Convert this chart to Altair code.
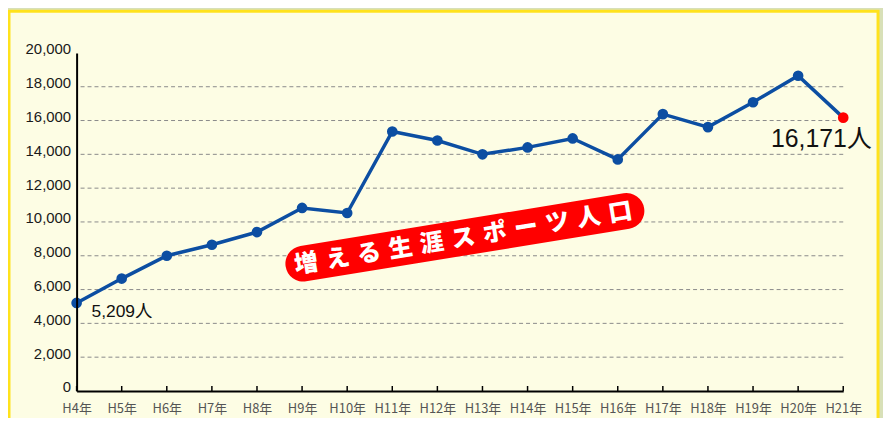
import altair as alt
import pandas as pd

years = ["H4年", "H5年", "H6年", "H7年", "H8年", "H9年", "H10年", "H11年", "H12年",
         "H13年", "H14年", "H15年", "H16年", "H17年", "H18年", "H19年", "H20年", "H21年"]
population = [5209, 6650, 8000, 8650, 9400, 10830, 10530, 15350, 14820,
              14000, 14410, 14940, 13700, 16380, 15610, 17080, 18650, 16171]
y_ticks = [0, 2000, 4000, 6000, 8000, 10000, 12000, 14000, 16000, 18000, 20000]
grid_values = [2000, 4000, 6000, 8000, 10000, 12000, 14000, 16000, 18000]
first_label = "5,209人"
last_label = "16,171人"
banner_chars = ["増", "え", "る", "生", "涯", "ス", "ポ", "ー", "ツ", "人", "口"]
banner_text = "\u2004".join(banner_chars)

W, H = 771, 340
df = pd.DataFrame({"year": years, "pop": population})
df["last"] = df["year"] == years[-1]
grid_df = pd.DataFrame({"v": grid_values})
one = pd.DataFrame({"a": [0]})

xs = alt.Scale(domain=years, type="point", padding=0)
ys = alt.Scale(domain=[0, 20000])

FONT_NUM = "Liberation Sans, Noto Sans CJK JP"
FONT_X = "Liberation Sans Narrow, Noto Sans CJK JP"

x_axis = alt.Axis(title=None, labelAngle=0, ticks=False, domainColor="#000000",
                  domainWidth=2, labelFont=FONT_X, labelFontSize=13,
                  labelColor="#555555", labelPadding=12, labelFlush=False, zindex=2)
y_axis = alt.Axis(title=None, values=y_ticks, format=",.0f", ticks=False, grid=False,
                  domainColor="#000000", domainWidth=2, labelFont=FONT_NUM,
                  labelFontSize=15, labelColor="#1a1a1a", labelPadding=6,
                  labelOffset=-4, zindex=2)

panel = alt.Chart(one).mark_rect(fill="#FDFDE4", stroke="#FFE21C", strokeWidth=3).encode(
    x=alt.value(-68), x2=alt.value(806), y=alt.value(-42), y2=alt.value(420)
)

grid = alt.Chart(grid_df).mark_rule(color="#8a8a8a", strokeWidth=1, strokeDash=[4, 3]).encode(
    y=alt.Y("v:Q", scale=ys, axis=y_axis),
    x=alt.value(4), x2=alt.value(W),
)

base = alt.Chart(df).encode(
    x=alt.X("year:N", scale=xs, sort=years, axis=x_axis),
    y=alt.Y("pop:Q", scale=ys, axis=y_axis),
)

xticks = alt.Chart(df).mark_rule(color="#000000", strokeWidth=1.5).encode(
    x=alt.X("year:N", scale=xs, sort=years, axis=x_axis),
    y=alt.value(H - 5), y2=alt.value(H),
)

line = base.mark_line(color="#0C4EA2", strokeWidth=3.5)
points = base.mark_circle(size=115, opacity=1).encode(
    color=alt.condition("datum.last", alt.value("#FF0000"), alt.value("#0C4EA2"))
)

lab1 = base.transform_filter(alt.datum.year == years[0]).mark_text(
    align="left", baseline="middle", dx=15, dy=9, fontSize=17.5, font=FONT_NUM, color="#111111"
).encode(text=alt.value(first_label))

lab2 = base.transform_filter(alt.datum.year == years[-1]).mark_text(
    align="center", baseline="middle", dx=-22, dy=22, fontSize=25, font=FONT_NUM, color="#111111"
).encode(text=alt.value(last_label))

band = alt.Chart(one).mark_rule(color="#FF0000", strokeWidth=36, strokeCap="round").encode(
    x=alt.value(228), y=alt.value(212), x2=alt.value(553), y2=alt.value(159)
)
band_text = alt.Chart(one).mark_text(
    angle=350.7, fontSize=24, fontWeight=900, font="Noto Sans CJK JP", color="#FFFFFF",
    align="center", baseline="middle"
).encode(x=alt.value(389), y=alt.value(187), text=alt.value(banner_text))

chart = alt.layer(panel, grid, xticks, band, band_text, line, points, lab1, lab2).properties(
    width=W, height=H,
    autosize=alt.AutoSizeParams(type="none"),
    padding={"left": 69, "top": 44, "right": 40, "bottom": 26},
    background="#D8E0B8",
).configure_view(stroke=None)

chart.save("out.html", embed_options={"renderer": "svg", "actions": False})
